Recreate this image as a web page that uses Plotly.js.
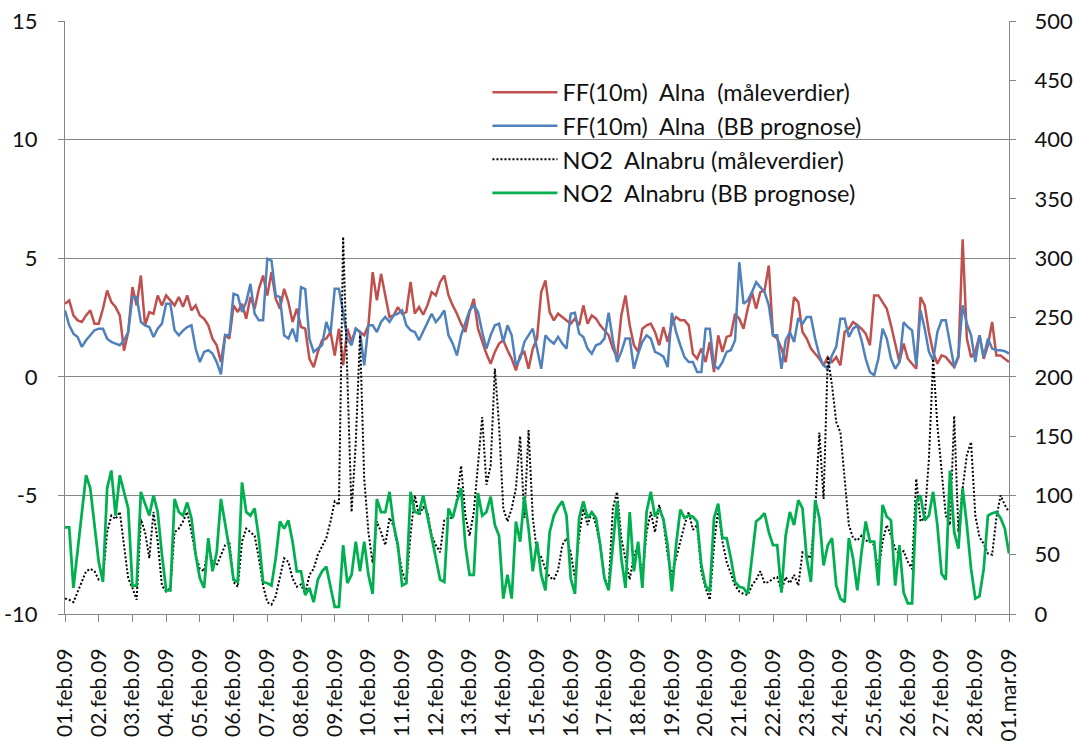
<!DOCTYPE html>
<html>
<head>
<meta charset="utf-8">
<script src="https://cdn.plot.ly/plotly-3.0.1.min.js"></script>
<style>
  html, body { margin: 0; padding: 0; background: #fff; }
  #chart { width: 1076px; height: 742px; }
</style>
</head>
<body>
<div id="chart"></div>
<script>
// Three-hourly values, 01.02.2009 00:00 to 01.03.2009 00:00 (8 per day + closing value)

// Wind speed FF(10m) at Alna, measured (m/s, left axis)
const ffMeasured = [
  3.08, 3.22, 2.59, 2.38, 2.31, 2.59, 2.80, 2.24,
  2.24, 2.87, 3.64, 3.15, 2.94, 2.59, 1.10, 1.89,
  3.78, 3.01, 4.27, 2.17, 2.73, 2.66, 3.43, 3.01,
  3.43, 3.22, 3.01, 3.36, 2.95, 3.43, 2.80, 3.01,
  2.59, 2.45, 2.17, 1.61, 1.33, 0.62, 1.75, 1.61,
  3.01, 2.73, 3.08, 2.45, 3.36, 2.87, 3.71, 4.27,
  3.43, 4.41, 3.29, 2.87, 3.71, 3.15, 2.31, 2.87,
  2.10, 2.03, 0.76, 0.41, 1.05, 1.54, 1.61, 1.89,
  0.90, 2.03, 0.48, 2.03, 1.47, 2.03, 1.89, 1.75,
  2.17, 4.41, 3.22, 4.34, 3.43, 2.52, 2.59, 2.94,
  2.66, 2.73, 4.00, 2.66, 2.94, 2.62, 3.01, 3.57,
  3.43, 3.99, 4.27, 3.43, 3.01, 2.66, 2.24, 1.89,
  2.73, 3.29, 2.03, 1.47, 0.97, 0.55, 1.05, 1.40,
  1.54, 1.12, 0.76, 0.27, 0.90, 1.05, 0.34, 1.19,
  1.61, 3.57, 4.06, 2.73, 2.38, 2.66, 2.52, 2.38,
  2.24, 2.45, 2.17, 3.01, 2.24, 2.59, 2.45, 2.17,
  1.96, 1.75, 1.19, 0.83, 2.59, 3.43, 2.17, 1.33,
  1.05, 2.03, 2.17, 2.24, 1.89, 1.33, 2.10, 1.47,
  2.24, 2.52, 2.38, 2.38, 2.17, 0.97, 0.76, 1.19,
  0.62, 1.47, 0.20, 1.75, 1.05, 1.68, 1.75, 2.66,
  2.45, 2.03, 2.87, 3.57, 2.87, 3.57, 3.64, 4.69,
  1.75, 1.61, 1.20, 0.62, 1.89, 3.36, 3.15, 1.89,
  1.61, 1.19, 0.97, 0.76, 0.48, 0.83, 0.62, 0.83,
  0.48, 1.89, 2.03, 2.31, 2.17, 2.03, 1.82, 1.33,
  3.43, 3.43, 3.15, 2.87, 2.17, 1.33, 0.62, 1.40,
  0.76, 0.55, 0.34, 3.36, 3.01, 1.89, 1.05, 0.55,
  0.90, 0.83, 0.62, 0.41, 0.83, 5.80, 1.61, 0.83,
  1.05, 1.75, 0.76, 1.33, 2.31, 0.90, 0.90, 0.76,
  0.62
];

// Wind speed FF(10m) at Alna, BB forecast (m/s, left axis)
const ffForecast = [
  2.80, 2.17, 1.82, 1.68, 1.26, 1.54, 1.75, 1.96,
  2.03, 2.03, 1.61, 1.47, 1.40, 1.33, 1.54, 1.89,
  3.36, 3.36, 2.31, 2.17, 2.10, 1.68, 2.03, 2.24,
  3.08, 3.08, 1.96, 1.75, 1.95, 2.10, 2.17, 1.19,
  0.62, 1.05, 1.12, 0.98, 0.62, 0.10, 1.75, 1.75,
  3.50, 3.43, 2.73, 3.15, 3.92, 2.66, 2.38, 2.38,
  4.97, 4.90, 3.43, 3.36, 1.75, 1.61, 2.03, 1.47,
  3.78, 3.70, 1.60, 1.05, 1.19, 1.33, 2.31, 1.82,
  3.71, 3.71, 2.73, 1.61, 1.33, 2.03, 1.89, 0.48,
  2.17, 2.17, 1.89, 2.31, 2.52, 2.31, 2.59, 2.66,
  2.80, 2.17, 1.96, 1.89, 1.54, 1.90, 2.24, 2.66,
  2.31, 2.52, 2.80, 1.75, 1.40, 0.90, 1.75, 2.31,
  2.80, 3.01, 2.73, 1.89, 1.19, 1.75, 2.17, 2.24,
  1.47, 2.17, 1.75, 0.48, 0.76, 1.47, 1.75, 2.03,
  1.19, 0.34, 1.75, 1.54, 1.40, 1.68, 1.40, 1.19,
  2.66, 2.70, 1.82, 1.68, 1.19, 0.97, 1.33, 1.40,
  1.61, 2.70, 1.54, 0.62, 1.05, 1.61, 1.61, 0.34,
  0.97, 1.47, 1.75, 1.61, 1.05, 0.97, 0.85, 0.41,
  2.70, 1.89, 1.33, 0.83, 0.62, 0.62, 0.20, 0.20,
  2.03, 2.03, 0.48, 0.34, 0.62, 1.05, 1.12, 1.54,
  4.83, 3.08, 3.22, 3.57, 3.99, 3.78, 3.57, 3.01,
  1.75, 1.75, 0.34, 1.54, 1.89, 1.47, 2.48, 2.24,
  2.52, 2.52, 1.61, 0.90, 0.48, 0.34, 0.90, 1.26,
  2.45, 2.45, 1.68, 2.03, 2.17, 1.54, 0.76, 0.20,
  0.06, 0.76, 2.03, 1.61, 0.76, 0.34, 0.62, 2.30,
  2.10, 1.96, 0.48, 2.80, 2.03, 1.05, 0.69, 1.89,
  2.38, 2.38, 1.47, 0.41, 0.90, 3.01, 2.24, 1.75,
  0.62, 1.75, 0.83, 1.61, 1.19, 1.12, 1.12, 1.08,
  0.98
];

// NO2 at Alnabru, measured (µg/m³, right axis)
const no2Measured = [
  13, 12, 10, 19, 27, 36, 38, 36,
  29, 30, 69, 83, 80, 86, 58, 30,
  22, 12, 80, 69, 47, 86, 61, 24,
  19, 22, 69, 72, 78, 86, 69, 50,
  38, 36, 58, 44, 41, 50, 58, 61,
  27, 23, 61, 72, 69, 66, 47, 24,
  10, 8, 15, 30, 47, 44, 30, 23,
  25, 17, 33, 38, 50, 57, 64, 78,
  95, 92, 318, 200, 86, 145, 235, 114,
  69, 43, 78, 69, 58, 81, 74, 55,
  36, 26, 67, 100, 83, 90, 86, 66,
  58, 52, 79, 81, 81, 97, 125, 83,
  66, 86, 125, 166, 109, 125, 207, 159,
  89, 78, 89, 106, 150, 81, 155, 81,
  52, 48, 38, 31, 29, 37, 58, 64,
  52, 30, 66, 89, 75, 86, 75, 58,
  30, 23, 89, 103, 64, 47, 29, 50,
  57, 30, 69, 86, 69, 92, 78, 50,
  33, 47, 61, 75, 86, 71, 75, 36,
  22, 12, 58, 89, 61, 44, 34, 24,
  19, 17, 16, 24, 29, 36, 26, 27,
  30, 31, 20, 31, 26, 33, 24, 52,
  50, 47, 86, 153, 97, 217, 193, 162,
  153, 114, 75, 64, 62, 66, 62, 61,
  58, 36, 61, 75, 66, 55, 50, 53,
  44, 38, 114, 78, 81, 131, 215, 159,
  120, 83, 75, 167, 69, 106, 134, 145,
  83, 65, 59, 51, 50, 81, 100, 92,
  86
];

// NO2 at Alnabru, BB forecast (µg/m³, right axis)
const no2Forecast = [
  73, 73, 22, 55, 89, 117, 106, 75,
  44, 27, 106, 121, 83, 117, 103, 89,
  24, 24, 103, 92, 83, 100, 86, 50,
  20, 20, 97, 86, 83, 94, 81, 50,
  30, 22, 64, 36, 52, 97, 75, 55,
  29, 27, 111, 86, 83, 89, 64, 27,
  26, 24, 47, 78, 72, 79, 61, 36,
  36, 16, 22, 10, 29, 36, 40, 24,
  6, 6, 58, 26, 33, 61, 36, 61,
  33, 17, 97, 86, 86, 103, 75, 58,
  24, 26, 103, 86, 85, 100, 83, 67,
  47, 29, 27, 89, 81, 95, 106, 58,
  33, 33, 102, 83, 86, 99, 75, 66,
  13, 33, 13, 78, 61, 99, 72, 36,
  61, 33, 20, 69, 83, 90, 95, 83,
  30, 17, 81, 95, 81, 86, 81, 58,
  30, 20, 58, 95, 47, 22, 86, 36,
  61, 22, 86, 103, 82, 89, 80, 58,
  19, 58, 88, 81, 83, 82, 78, 41,
  24, 19, 81, 93, 64, 64, 47, 27,
  23, 22, 17, 47, 78, 81, 85, 69,
  58, 58, 18, 66, 86, 75, 96, 89,
  47, 27, 96, 81, 41, 58, 64, 24,
  13, 10, 64, 47, 20, 52, 78, 61,
  61, 24, 92, 82, 79, 24, 58, 18,
  9, 9, 95, 100, 79, 83, 103, 75,
  34, 29, 121, 69, 55, 106, 75, 38,
  13, 15, 38, 83, 85, 86, 81, 72,
  51
];

const seriesNames = [
  'FF(10m)\u00a0 Alna\u00a0 (måleverdier)',
  'FF(10m)\u00a0 Alna\u00a0 (BB prognose)',
  'NO2\u00a0 Alnabru (måleverdier)',
  'NO2\u00a0 Alnabru (BB prognose)'
];

const dayLabels = [
  '01.feb.09', '02.feb.09', '03.feb.09', '04.feb.09', '05.feb.09', '06.feb.09', '07.feb.09',
  '08.feb.09', '09.feb.09', '10.feb.09', '11.feb.09', '12.feb.09', '13.feb.09', '14.feb.09',
  '15.feb.09', '16.feb.09', '17.feb.09', '18.feb.09', '19.feb.09', '20.feb.09', '21.feb.09',
  '22.feb.09', '23.feb.09', '24.feb.09', '25.feb.09', '26.feb.09', '27.feb.09', '28.feb.09',
  '01.mar.09'
];

const leftTickValues = [-10, -5, 0, 5, 10, 15];
const leftTickLabels = ['-10', '-5', '0', '5', '10', '15'];

// Time stamps
const START_MS = Date.UTC(2009, 1, 1);
const STEP_HOURS = 3;
const pad = n => String(n).padStart(2, '0');
function stamp(ms) {
  const d = new Date(ms);
  return d.getUTCFullYear() + '-' + pad(d.getUTCMonth() + 1) + '-' + pad(d.getUTCDate()) +
         ' ' + pad(d.getUTCHours()) + ':00';
}
const times = ffMeasured.map((_, i) => stamp(START_MS + i * STEP_HOURS * 3600e3));
const dayTicks = dayLabels.map((_, d) => stamp(START_MS + d * 86400e3));

const FONT = 'Lato, "Liberation Sans", Arial, sans-serif';
const GRID = '#878787';

const traces = [
  { x: times, y: ffMeasured, name: seriesNames[0], type: 'scatter', mode: 'lines',
    yaxis: 'y', line: { color: '#C0504D', width: 2.5 } },
  { x: times, y: ffForecast, name: seriesNames[1], type: 'scatter', mode: 'lines',
    yaxis: 'y', line: { color: '#4F81BD', width: 2.5 } },
  { x: times, y: no2Measured, name: seriesNames[2], type: 'scatter', mode: 'lines',
    yaxis: 'y2', line: { color: '#000000', width: 2, dash: '2px,2px' } },
  { x: times, y: no2Forecast, name: seriesNames[3], type: 'scatter', mode: 'lines',
    yaxis: 'y2', line: { color: '#00B050', width: 2.75 } }
];

const layout = {
  width: 1076,
  height: 742,
  margin: { l: 65, r: 67, t: 21, b: 128, pad: 0 },
  paper_bgcolor: '#ffffff',
  plot_bgcolor: '#ffffff',
  font: { family: FONT, size: 22, color: '#111111' },
  showlegend: true,
  legend: {
    x: 0.4475, xanchor: 'left',
    y: 0.9166, yanchor: 'top',
    bgcolor: 'rgba(0,0,0,0)',
    borderwidth: 0,
    itemwidth: 65,
    font: { family: FONT, size: 23.5, color: '#111111' },
    traceorder: 'normal'
  },
  xaxis: {
    type: 'date',
    range: [dayTicks[0], dayTicks[dayTicks.length - 1]],
    tickmode: 'array',
    tickvals: dayTicks,
    ticktext: dayLabels,
    tickangle: -90,
    ticks: 'outside',
    ticklen: 7,
    tickcolor: GRID,
    ticklabelstandoff: 18,
    tickfont: { family: FONT, size: 21, color: '#111111' },
    showline: true,
    linecolor: GRID,
    linewidth: 1,
    showgrid: false,
    zeroline: false,
    fixedrange: true
  },
  yaxis: {
    range: [-10, 15],
    tickmode: 'array',
    tickvals: leftTickValues,
    ticktext: leftTickLabels,
    ticks: 'outside',
    ticklen: 6,
    tickcolor: GRID,
    ticklabelstandoff: 16,
    tickfont: { family: FONT, size: 22, color: '#111111' },
    showline: true,
    linecolor: GRID,
    linewidth: 1,
    showgrid: true,
    gridcolor: GRID,
    gridwidth: 1,
    zeroline: false,
    fixedrange: true
  },
  yaxis2: {
    overlaying: 'y',
    side: 'right',
    range: [0, 500],
    dtick: 50,
    tick0: 0,
    ticks: 'outside',
    ticklen: 6,
    tickcolor: GRID,
    ticklabelstandoff: 14,
    tickfont: { family: FONT, size: 22, color: '#111111' },
    showline: true,
    linecolor: GRID,
    linewidth: 1,
    showgrid: false,
    zeroline: false,
    fixedrange: true
  }
};

Plotly.newPlot('chart', traces, layout, { displayModeBar: false, staticPlot: true });
</script>
</body>
</html>
